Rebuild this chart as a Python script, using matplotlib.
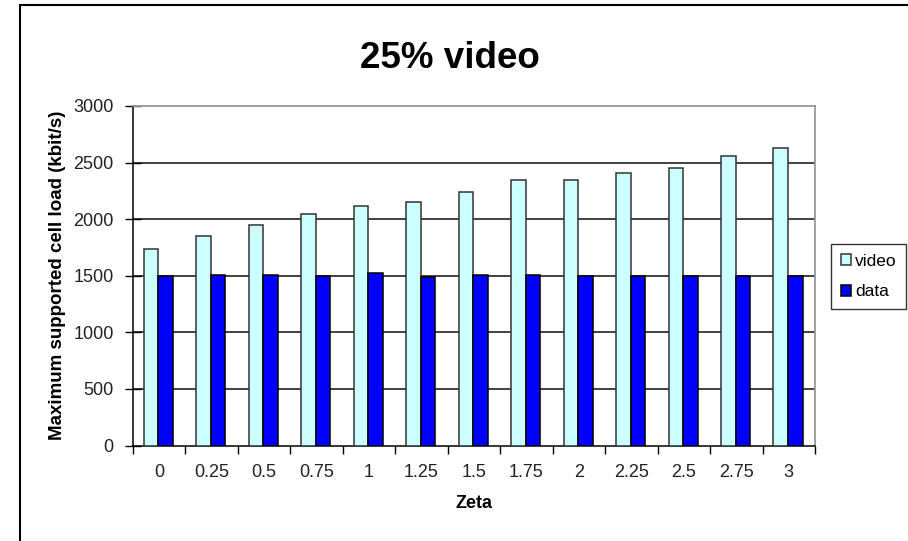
import numpy as np
import matplotlib
matplotlib.use("Agg")
import matplotlib.pyplot as plt
from matplotlib.patches import Rectangle

# Zeta values and maximum supported cell load (kbit/s)
zeta_labels = ["0", "0.25", "0.5", "0.75", "1", "1.25", "1.5", "1.75",
               "2", "2.25", "2.5", "2.75", "3"]
video_load = [1740, 1855, 1945, 2045, 2120, 2150, 2240, 2350, 2350,
              2405, 2455, 2555, 2630]
data_load = [1495, 1510, 1510, 1495, 1520, 1485, 1510, 1510, 1495,
             1495, 1495, 1495, 1495]

plt.rcParams['font.family'] = ['Liberation Sans', 'DejaVu Sans']

W, H = 908, 541
fig = plt.figure(figsize=(W / 100, H / 100), dpi=100)
ax = fig.add_axes([133 / W, 1 - 445.5 / H, 682 / W, 339.5 / H])

x = np.arange(len(zeta_labels))
bw = 0.277
ax.bar(x - bw / 2 - 0.015, video_load, width=bw, color='#ccffff',
       edgecolor='#333333', linewidth=1.1, label='video', zorder=3)
ax.bar(x + bw / 2 - 0.015, data_load, width=bw, color='#0000ff',
       edgecolor='#000000', linewidth=1.1, label='data', zorder=3)

ax.set_xlim(-0.5, len(zeta_labels) - 0.5)
ax.set_ylim(0, 3000)
ax.set_yticks(np.arange(0, 3001, 500))
for v in np.arange(500, 3000, 500):
    ax.axhline(v, color='#333333', linewidth=1.3, zorder=1)

# category ticks sit between the groups, labels at the group centres
ax.set_xticks(np.arange(-0.5, len(zeta_labels), 1.0))
ax.set_xticklabels([])
ax.set_xticks(x, minor=True)
ax.set_xticklabels(zeta_labels, minor=True)
ax.tick_params(axis='x', which='major', direction='out', length=6,
               width=1, color='black')
ax.tick_params(axis='x', which='minor', length=0, pad=13, labelsize=13,
               labelcolor='#222222')
ax.tick_params(axis='y', direction='inout', length=12, width=1,
               labelsize=13, pad=8, labelcolor='#222222')

for side in ('top', 'right'):
    ax.spines[side].set_color('#999999')
    ax.spines[side].set_linewidth(1.3)
for side in ('left', 'bottom'):
    ax.spines[side].set_color('black')
    ax.spines[side].set_linewidth(1.1)

ax.set_xlabel('Zeta', fontsize=13, fontweight='bold')
ax.xaxis.set_label_coords(0.5, -0.145)
ax.set_ylabel('Maximum supported cell load (kbit/s)', fontsize=13.5,
              fontweight='bold')
ax.yaxis.set_label_coords(-0.098, 0.5)

fig.text(450 / W, 1 - 58 / H, '25% video', fontsize=26.5,
         fontweight='bold', ha='center', va='center')

leg = fig.legend(loc='upper left', bbox_to_anchor=(831 / W, 1 - 244 / H),
                 fontsize=12.5, frameon=True, fancybox=False,
                 handlelength=0.6, handleheight=0.6, handletextpad=0.25,
                 borderpad=0.55, labelspacing=0.9, borderaxespad=0)
leg.get_frame().set_edgecolor('black')
leg.get_frame().set_linewidth(1.0)

# outer chart border (left and top edges visible)
fig.patches.append(Rectangle((20 / W, -0.1), 1.2, 1 - 5 / H + 0.1,
                             transform=fig.transFigure, fill=False,
                             edgecolor='black', linewidth=1.5))

fig.savefig('out.png', dpi=100)
